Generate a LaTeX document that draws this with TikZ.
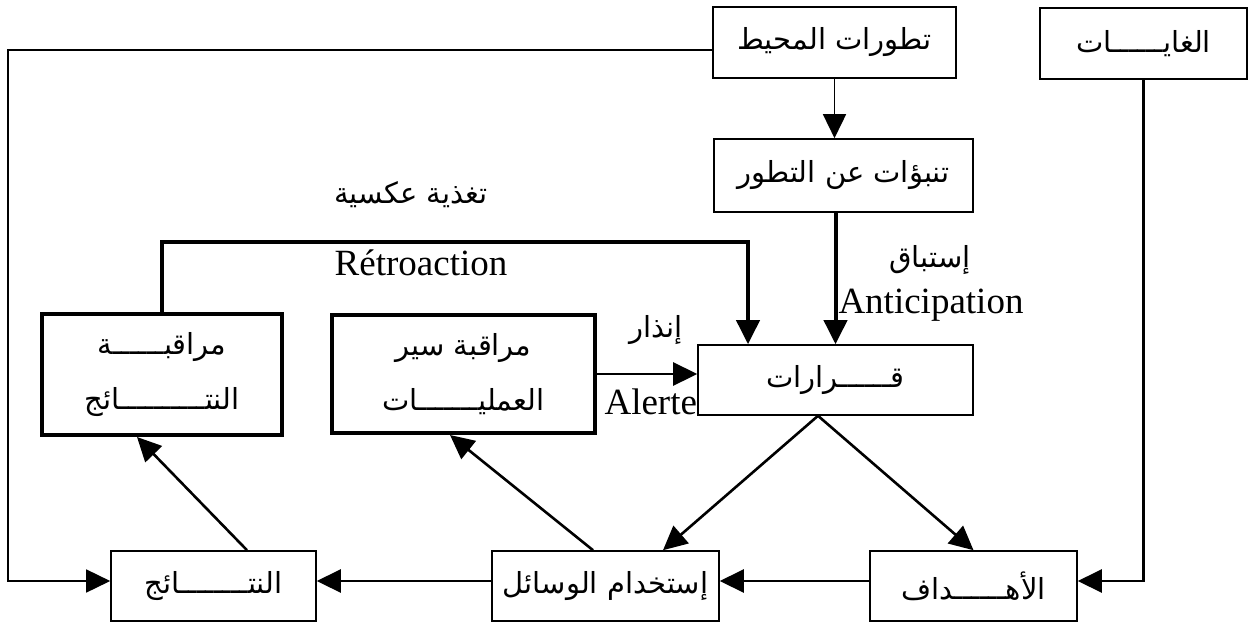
\documentclass[tikz,border=0pt]{standalone}
\usepackage{fontspec}
\setmainfont{Liberation Serif}
\newfontfamily\arabicfont[Script=Arabic]{DejaVu Sans}
\TeXXeTstate=1
\usetikzlibrary{arrows.meta}
\newcommand{\ar}[1]{{\arabicfont\beginR #1\endR}}
\tikzset{
  plainbox/.style={draw, line width=1.6pt, inner sep=0pt, font=\arabicfont\fontsize{29}{34}\selectfont},
  heavybox/.style={plainbox, line width=4pt, align=center, font=\arabicfont\fontsize{29}{55}\selectfont},
  tip/.style={-{Triangle[length=24pt,width=23pt]}},
  thinlink/.style={tip, line width=1.6pt},
  midlink/.style={tip, line width=2.6pt},
  heavylink/.style={tip, line width=4pt},
  arlabel/.style={inner sep=0pt, font=\arabicfont\fontsize{29}{34}\selectfont},
  latlabel/.style={inner sep=0pt, font=\fontsize{37}{42}\selectfont}
}
\begin{document}
\begin{tikzpicture}[x=1pt,y=-1pt]
\useasboundingbox (0,0) rectangle (1249,623);

% boxes
\node[plainbox, minimum width=243pt, minimum height=71pt] (env) at (834.5,42.5) {\ar{تطورات المحيط}};
\node[plainbox, minimum width=207pt, minimum height=71pt] (goals) at (1143.5,43.5) {\ar{الغايــــــات}};
\node[plainbox, minimum width=259pt, minimum height=73pt] (pred) at (843.5,175.5) {\ar{تنبؤات عن التطور}};
\node[plainbox, minimum width=275pt, minimum height=70pt] (dec) at (835.5,380) {\ar{قــــــرارات}};
\node[heavybox, minimum width=240pt, minimum height=121pt] (monres) at (162,374.5) {\ar{مراقبــــــة}\\\ar{النتــــــــــائج}};
\node[heavybox, minimum width=263pt, minimum height=118pt] (monops) at (463.5,374) {\ar{مراقبة سير}\\\ar{العمليـــــــات}};
\node[plainbox, minimum width=205pt, minimum height=70pt] (results) at (213.5,586) {\ar{النتــــــــائج}};
\node[plainbox, minimum width=227pt, minimum height=70pt] (means) at (605.5,586) {\ar{إستخدام الوسائل}};
\node[plainbox, minimum width=207pt, minimum height=70pt] (objs) at (973.5,586) {\ar{الأهــــــداف}};

% labels
\node[arlabel] (fbar) at (411,195) {\ar{تغذية عكسية}};
\node[latlabel] (fblat) at (421,263) {Rétroaction};
\node[arlabel] (antar) at (930,260) {\ar{إستباق}};
\node[latlabel] (antlat) at (931,305) {Anticipation};
\node[arlabel] (alar) at (656,330) {\ar{إنذار}};
\node[latlabel, anchor=east] (allat) at (dec.west |- 0,402) {Alerte};

% routing points
\coordinate (row) at (0,581);
\coordinate (lefttop) at (8,50);
\coordinate (fbturn) at (748,242);

% connectors
\draw[thinlink] (env.south) -- (env.south |- pred.north);
\draw[heavylink] (dec.north |- pred.south) -- (dec.north);
\draw[heavylink] (monres.north) |- (fbturn) -- (fbturn |- dec.north);
\draw[midlink] (monops.east) -- (monops.east -| dec.west);
\draw[midlink] ([xshift=33.5pt]results.north) -- ([xshift=-25pt]monres.south);
\draw[midlink] ([xshift=-12.5pt]means.north) -- ([xshift=-13.5pt]monops.south);
\draw[midlink] ([xshift=-17.5pt]dec.south) -- ([xshift=57.5pt]means.north);
\draw[midlink] ([xshift=-17.5pt]dec.south) -- (objs.north);
\draw[midlink] (objs.west |- row) -- (means.east |- row);
\draw[midlink] (means.west |- row) -- (results.east |- row);
\draw[midlink] (goals.south) |- (objs.east |- row);
\draw[thinlink] (env.west |- lefttop) -- (lefttop) |- (results.west |- row);
\end{tikzpicture}
\end{document}
